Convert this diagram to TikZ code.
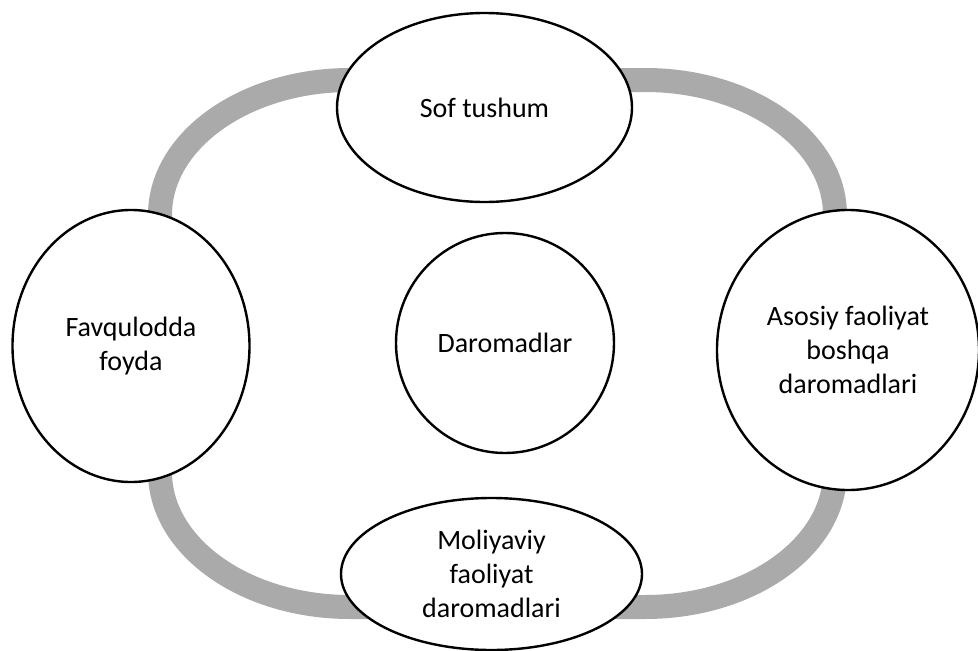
\documentclass[tikz,border=0pt]{standalone}
\usepackage{fontspec}
\setmainfont{Carlito}
\usetikzlibrary{shapes.geometric}
\definecolor{ringgray}{RGB}{170,170,170}

\begin{document}
\begin{tikzpicture}[x=1pt,y=-1pt,
  bubble/.style={ellipse,draw,line width=2.4pt,fill=white,align=center,inner sep=0pt,font=\fontsize{28}{34}\selectfont},
  ring/.style={line width=24pt,color=ringgray},
  corner/.style={x radius=190,y radius=135}]
\useasboundingbox (0,0) rectangle (978,651);
% grey loop behind the bubbles
\draw[ring] (350,80) -- (645,80) arc[corner,start angle=-90,end angle=0]
  -- (835,472) arc[corner,start angle=0,end angle=90]
  -- (350,607) arc[corner,start angle=90,end angle=180]
  -- (160,215) arc[corner,start angle=180,end angle=270] -- cycle;
\node[bubble,minimum width=295pt,minimum height=189pt] (sof) at (484.5,107.5) {Sof tushum};
\node[bubble,minimum width=237pt,minimum height=272pt] (favq) at (131,346) {Favqulodda\\foyda};
\node[bubble,minimum width=218pt,minimum height=220pt] (daromad) at (505,343) {Daromadlar};
\node[bubble,minimum width=262pt,minimum height=280pt] (asosiy) at (848,350) {Asosiy faoliyat\\boshqa\\daromadlari};
\node[bubble,minimum width=301pt,minimum height=152pt] (moliya) at (491.5,574) {Moliyaviy\\faoliyat\\daromadlari};
\end{tikzpicture}
\end{document}
